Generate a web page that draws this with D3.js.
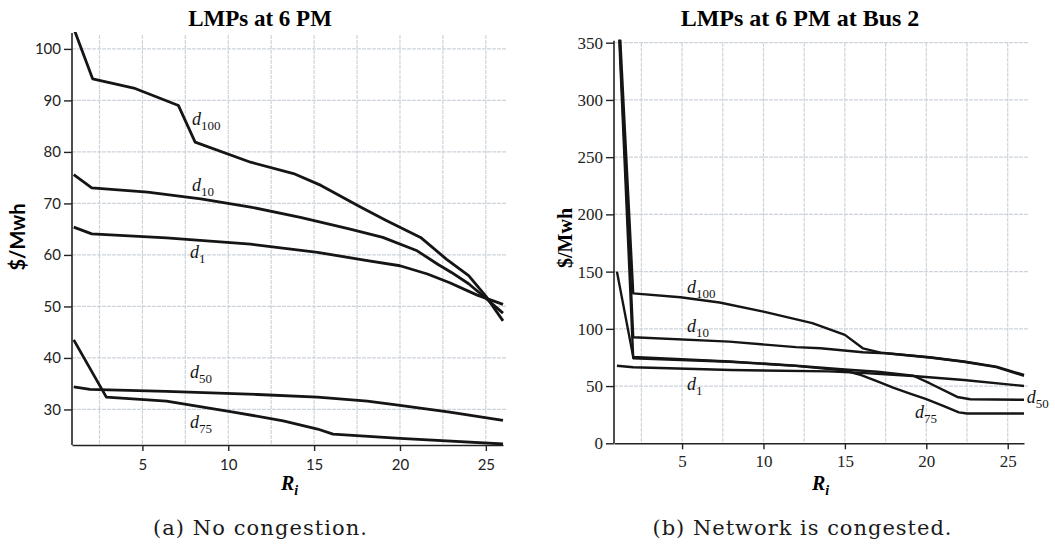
<!DOCTYPE html>
<html>
<head>
<meta charset="utf-8">
<script src="https://cdn.jsdelivr.net/npm/d3@7"></script>
<style>
  body { margin: 0; background: #fff; }
</style>
</head>
<body>
<svg id="chart" width="1055" height="548"></svg>
<script>
// ---- panel (a): no congestion, [R_i, $/MWh]
const noCongD100 = [[1,104],[2.1,94.2],[4.5,92.4],[7.1,89.0],[8.07,81.9],[11.3,78.0],[13.8,75.8],[15.4,73.5],[17.7,69.3],[19.2,66.7],[21.2,63.4],[22.7,59.2],[24,56],[25,52],[26,47.2]];
const noCongD10  = [[1,75.6],[2.05,73.0],[5.3,72.2],[8.4,70.9],[11.3,69.3],[14.2,67.3],[17.1,65.0],[19,63.4],[21,60.8],[22.2,58.2],[23,56.6],[24,54.4],[25,51.6],[26,48.7]];
const noCongD1   = [[1,65.4],[2.05,64.1],[6.4,63.3],[11.3,62.1],[15.2,60.5],[18.1,58.9],[20,57.9],[21.6,56.3],[22.9,54.6],[24.5,52.2],[26,50.4]];
const noCongD50  = [[1,34.4],[1.95,33.9],[6.4,33.5],[11.7,32.9],[15.2,32.4],[18.1,31.6],[20,30.8],[22.9,29.5],[26,27.9]];
const noCongD75  = [[1,43.5],[2.9,32.4],[6.4,31.6],[10.3,29.5],[13.2,27.8],[15.2,26.2],[16.1,25.2],[20,24.4],[26,23.3]];

// ---- panel (b): congested, bus 2
const congD100 = [[1,410],[2,131],[4.9,127.6],[7.3,123],[10,115],[13,105],[15,94.7],[16.1,83],[17.2,79.2],[20.2,75.2],[22.3,71.5],[24.3,67],[26,59.7]];
const congD10  = [[1,405],[2,92.7],[7.9,88.8],[12,84],[13.5,83],[16.1,79.5],[17.5,78.7],[20.2,75],[22.3,71.2],[24.3,66.5],[26,59]];
const congD1   = [[1,67.7],[2,66.4],[8,64],[14,62.8],[16,61.5],[19.2,58.8],[22.3,55.3],[26,50.1]];
const congD50  = [[1,150],[2,75.5],[7.9,71.5],[12,67.8],[15,64.5],[17,62.5],[19.2,59],[20.2,52.5],[21.9,40.5],[22.7,38.5],[26,38]];
const congD75  = [[1,400],[2,74.3],[7.9,71.3],[12,67.6],[15,63.5],[16,59.5],[17,54],[18,48.5],[19,43.5],[20,38.5],[21,33],[22,27],[22.5,26],[26,26]];

const seriesSubs = ["100", "10", "1", "50", "75"];
const leftYTicks = [30, 40, 50, 60, 70, 80, 90, 100];
const rightYTicks = [0, 50, 100, 150, 200, 250, 300, 350];
const xTicks = [5, 10, 15, 20, 25];
const xGrid = [2.5, 5, 7.5, 10, 12.5, 15, 17.5, 20, 22.5, 25];
const titles = ["LMPs at 6 PM", "LMPs at 6 PM at Bus 2"];
const captions = ["(a) No congestion.", "(b) Network is congested."];

const svg = d3.select("#chart");

function drawPanel(opt) {
    var x = d3.scaleLinear().domain(opt.xDomain).range([opt.left, opt.right]);
    var y = d3.scaleLinear().domain(opt.yDomain).range([opt.bottom, opt.top]);
    var g = svg.append("g");

    // grid
    g.selectAll(".vg").data(xGrid).enter().append("line")
        .attr("x1", d => x(d)).attr("x2", d => x(d))
        .attr("y1", opt.top).attr("y2", opt.bottom)
        .attr("stroke", "#cdd4db").attr("stroke-width", 1.2)
        .attr("stroke-dasharray", "4,1");
    g.selectAll(".hg").data(opt.yTicks.filter(d => d !== opt.yDomain[0])).enter().append("line")
        .attr("x1", opt.left).attr("x2", opt.right + 4)
        .attr("y1", d => y(d)).attr("y2", d => y(d))
        .attr("stroke", "#cdd4db").attr("stroke-width", 1.2)
        .attr("stroke-dasharray", "4,1");

    // axes
    var yAxis = g.append("g")
        .attr("transform", "translate(" + opt.left + ",0)")
        .call(d3.axisLeft(y).tickValues(opt.yTicks).tickSize(8).tickSizeOuter(0).tickPadding(3));
    var xAxis = g.append("g")
        .attr("transform", "translate(0," + opt.bottom + ")")
        .call(d3.axisBottom(x).tickValues(xTicks).tickSize(6).tickSizeOuter(0).tickPadding(opt.xPad));
    [yAxis, xAxis].forEach(function(a) {
        a.attr("font-family", null);
        a.select(".domain").attr("stroke", "#222").attr("stroke-width", 1.6);
        a.selectAll(".tick line").attr("stroke", "#222").attr("stroke-width", 1.4);
        a.selectAll("text").attr("fill", "#222")
            .attr("font-family", opt.tickFont).attr("font-size", opt.tickSize);
    });
    yAxis.select(".domain").attr("d", "M0," + (opt.top - 2) + "V" + opt.bottom);

    // clip
    var clipId = "clip" + opt.id;
    svg.append("clipPath").attr("id", clipId).append("rect")
        .attr("x", opt.left).attr("y", opt.top - 3)
        .attr("width", opt.right - opt.left + 2).attr("height", opt.bottom - opt.top + 3);

    var line = d3.line()
        .x(d => x(d[0]))
        .y(d => y(d[1]));

    g.append("g").attr("clip-path", "url(#" + clipId + ")")
        .selectAll("path").data(opt.series).enter().append("path")
        .attr("d", line)
        .attr("fill", "none")
        .attr("stroke", "#151515")
        .attr("stroke-width", opt.lineWidth)
        .attr("stroke-linejoin", "round");

    // series labels, d with subscript
    opt.labels.forEach(function(p, i) {
        var t = g.append("text")
            .attr("x", x(p[0])).attr("y", y(p[1]))
            .attr("fill", "#151515")
            .attr("font-family", "Liberation Serif");
        t.append("tspan").text("d").attr("font-style", "italic").attr("font-size", 18);
        t.append("tspan").text(seriesSubs[i]).attr("dy", 5).attr("font-size", 13);
    });

    // title
    svg.append("text")
        .attr("x", opt.titleX).attr("y", 26)
        .attr("text-anchor", "middle")
        .attr("font-family", "Liberation Serif")
        .attr("font-weight", "bold").attr("font-size", opt.titleSize)
        .text(opt.title);

    // y label
    svg.append("text")
        .attr("transform", "translate(" + opt.yLabelX + "," + opt.yLabelY + ") rotate(-90)")
        .attr("text-anchor", "middle")
        .attr("font-family", opt.yLabelFont)
        .attr("font-weight", "bold").attr("font-size", 20)
        .text("$/Mwh");

    // x label R_i
    var r = svg.append("text")
        .attr("x", opt.rX).attr("y", 490)
        .attr("font-family", "Liberation Serif")
        .attr("font-weight", "bold").attr("font-style", "italic");
    r.append("tspan").text("R").attr("font-size", 20);
    r.append("tspan").text("i").attr("dy", 5).attr("font-size", 14);

    // caption
    svg.append("text")
        .attr("x", opt.capX).attr("y", 535)
        .attr("text-anchor", "middle")
        .attr("textLength", opt.capLen).attr("lengthAdjust", "spacing")
        .attr("font-family", "DejaVu Serif")
        .attr("font-size", 21)
        .attr("fill", "#1a1a1a")
        .text(opt.caption);
}

drawPanel({
    id: "a",
    xDomain: [0.9, 26], yDomain: [23.1, 102.7],
    left: 72, right: 503, top: 35, bottom: 445,
    yTicks: leftYTicks, xPad: 8,
    tickFont: "Lato", tickSize: 15,
    lineWidth: 2.8,
    series: [noCongD100, noCongD10, noCongD1, noCongD50, noCongD75],
    labels: [[7.89, 85.2], [7.89, 72.4], [7.77, 59.4], [7.77, 36.1], [7.77, 26.4]],
    title: titles[0], titleX: 260, titleSize: 23,
    yLabelX: 25, yLabelY: 237, yLabelFont: "Lato",
    rX: 281, capX: 260, capLen: 214, caption: captions[0]
});

drawPanel({
    id: "b",
    xDomain: [0.82, 26], yDomain: [0, 350],
    left: 614, right: 1024, top: 42.7, bottom: 443.3,
    yTicks: rightYTicks, xPad: 6,
    tickFont: "Liberation Serif", tickSize: 17,
    lineWidth: 2.4,
    series: [congD100, congD10, congD1, congD50, congD75],
    labels: [[5.3, 131.4], [5.3, 97.3], [5.3, 46.7], [26.17, 35.2], [19.3, 22.1]],
    title: titles[1], titleX: 800, titleSize: 24,
    yLabelX: 572, yLabelY: 238, yLabelFont: "Liberation Serif",
    rX: 812, capX: 802, capLen: 299, caption: captions[1]
});
</script>
</body>
</html>
